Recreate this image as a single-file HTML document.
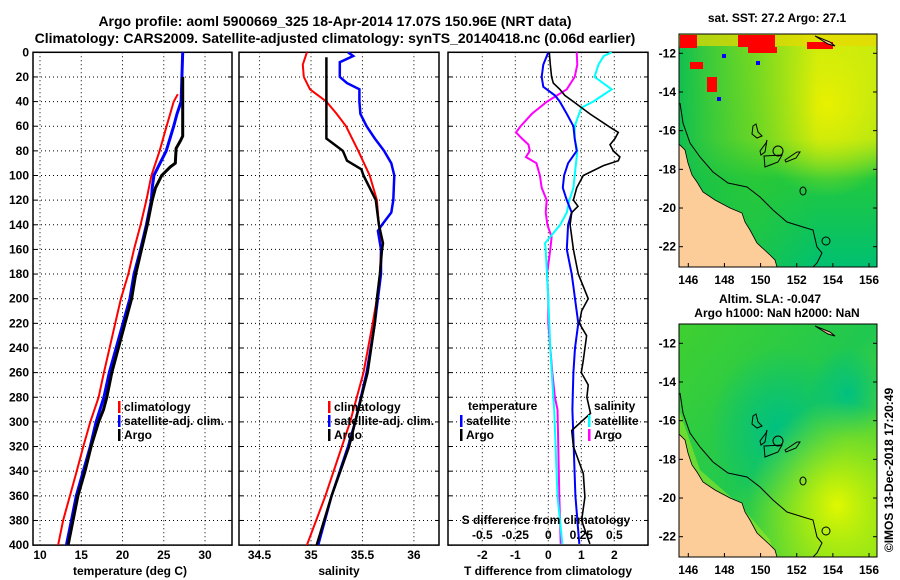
<!DOCTYPE html>
<html><head><meta charset="utf-8"><style>
html,body{margin:0;padding:0;background:#fff;}
svg{display:block;font-family:"Liberation Sans",Arial,sans-serif;font-weight:bold;}
</style></head><body>
<svg id="fig" width="900" height="580" viewBox="0 0 900 580" xmlns="http://www.w3.org/2000/svg">
<defs>
<clipPath id="cT"><rect x="33" y="52" width="199" height="493"/></clipPath>
<clipPath id="cS"><rect x="239" y="52" width="200" height="493"/></clipPath>
<clipPath id="cD"><rect x="448" y="52" width="200" height="493"/></clipPath>
<clipPath id="cM1"><rect x="679" y="34" width="198" height="233"/></clipPath>
<clipPath id="cM2"><rect x="679" y="324" width="198" height="233"/></clipPath>
<linearGradient id="g1b" x1="0" y1="0" x2="0" y2="1"><stop offset="0" stop-color="#c8ec10"/><stop offset="0.45" stop-color="#a8e418"/><stop offset="0.62" stop-color="#20c840"/><stop offset="1" stop-color="#00c070"/></linearGradient>
<linearGradient id="g1l" x1="0" y1="0" x2="1" y2="0"><stop offset="0" stop-color="#10c050"/><stop offset="0.4" stop-color="#30c830" stop-opacity="0.5"/><stop offset="0.7" stop-color="#30c830" stop-opacity="0"/></linearGradient>
<radialGradient id="g1a" cx="0.75" cy="0.3" r="0.4"><stop offset="0" stop-color="#e8f000"/><stop offset="1" stop-color="#e8f000" stop-opacity="0"/></radialGradient>
<linearGradient id="g2b" x1="0" y1="0" x2="1" y2="1"><stop offset="0" stop-color="#40d030"/><stop offset="0.5" stop-color="#20c850"/><stop offset="1" stop-color="#80e020"/></linearGradient>
<radialGradient id="g2a" cx="0.8" cy="0.78" r="0.45"><stop offset="0" stop-color="#e0f800"/><stop offset="1" stop-color="#c0f000" stop-opacity="0"/></radialGradient>
<radialGradient id="g2c" cx="0.5" cy="0.45" r="0.35"><stop offset="0" stop-color="#00c080"/><stop offset="1" stop-color="#00c080" stop-opacity="0"/></radialGradient>
<radialGradient id="g2d" cx="0.85" cy="0.3" r="0.2"><stop offset="0" stop-color="#00c080"/><stop offset="1" stop-color="#00c080" stop-opacity="0"/></radialGradient>
</defs>

<text x="335" y="26" font-size="14" text-anchor="middle">Argo profile: aoml 5900669_325 18-Apr-2014 17.07S 150.96E (NRT data)</text>
<text x="335" y="43" font-size="14" text-anchor="middle">Climatology: CARS2009. Satellite-adjusted climatology: synTS_20140418.nc (0.06d earlier)</text>

<g id="gT"></g>
<g id="gS"></g>
<g id="gD"></g>

<!-- SST map -->
<g>
<text x="777" y="22" font-size="12" text-anchor="middle">sat. SST: 27.2 Argo: 27.1</text>
<g clip-path="url(#cM1)">
<rect x="679" y="34" width="198" height="233" fill="url(#g1b)"/>
<rect x="679" y="34" width="198" height="233" fill="url(#g1a)"/>
<rect x="679" y="34" width="198" height="233" fill="url(#g1l)"/>
<rect x="679" y="34" width="198" height="12" fill="#e8d800" opacity="0.7"/>
<rect x="680" y="35" width="17" height="13" fill="#ff0000"/>
<rect x="738" y="35" width="37" height="12" fill="#ff0000"/>
<rect x="748" y="47" width="29" height="6" fill="#ff0000"/>
<rect x="690" y="62" width="13" height="7" fill="#ff0000"/>
<rect x="707" y="77" width="10" height="15" fill="#ff0000"/>
<rect x="807" y="42" width="26" height="7" fill="#ff0000"/>
<rect x="722" y="54" width="4" height="4" fill="#0000ff"/>
<rect x="756" y="61" width="4" height="4" fill="#0000ff"/>
<rect x="717" y="97" width="4" height="4" fill="#0000ff"/>
<path d="M679,144 L685,150 L688,163 L692,175 L697,182 L703,192 L715,200 L730,208 L742,213 L745,222 L750,230 L757,243 L770,255 L775,260 L777,267 L679,267 Z" fill="#fccc99" stroke="#000" stroke-width="0.8"/>
<polyline points="680,103 683,123 690,143 700,157 713,172 728,183 747,187 760,197 773,210 787,222 803,227 813,230 817,247 822,253 817,263 813,267" fill="none" stroke="#000" stroke-width="1"/>
<circle cx="778" cy="151" r="5" fill="none" stroke="#000" stroke-width="1"/>
<path d="M753,126 L756,124 L758,132 L762,136 L757,138 L752,134 Z M760,151 L766,143 L767,140 L765,152 L761,155 Z M764,156 L782,155 L778,162 L765,167 Z M785,160 L797,152 L800,152 L796,158 L786,162 Z" fill="none" stroke="#000" stroke-width="1"/>
<ellipse cx="803" cy="191" rx="3" ry="4" fill="none" stroke="#000"/>
<ellipse cx="826" cy="241" rx="4" ry="4" fill="none" stroke="#000"/>
<path d="M815,36 L830,42 L835,46 L828,44 Z" fill="#fccc99" stroke="#000"/>
</g>
<rect x="679" y="34" width="198" height="233" fill="none" stroke="#000" stroke-width="1"/>
</g>

<!-- SLA map -->
<g>
<text x="770" y="303" font-size="12" text-anchor="middle">Altim. SLA: -0.047</text>
<text x="777" y="317" font-size="12" text-anchor="middle">Argo h1000: NaN h2000: NaN</text>
<g clip-path="url(#cM2)">
<rect x="679" y="324" width="198" height="233" fill="url(#g2b)"/>
<rect x="679" y="324" width="198" height="233" fill="url(#g2c)"/>
<rect x="679" y="324" width="198" height="233" fill="url(#g2d)"/>
<rect x="679" y="324" width="198" height="233" fill="url(#g2a)"/>
<path d="M679,410 L700,470 L740,505 L770,540 L775,557 L679,557 Z" fill="#b8f020" opacity="0.45"/>
<path d="M679,434 L685,440 L688,453 L692,465 L697,472 L703,482 L715,490 L730,498 L742,503 L745,512 L750,520 L757,533 L770,545 L775,550 L777,557 L679,557 Z" fill="#fccc99" stroke="#000" stroke-width="0.8"/>
<polyline points="680,393 683,413 690,433 700,447 713,462 728,473 747,477 760,487 773,500 787,512 803,517 813,520 817,537 822,543 817,553 813,557" fill="none" stroke="#000" stroke-width="1"/>
<circle cx="778" cy="441" r="5" fill="none" stroke="#000" stroke-width="1"/>
<path d="M753,416 L756,414 L758,422 L762,426 L757,428 L752,424 Z M760,441 L766,433 L767,430 L765,442 L761,445 Z M764,446 L782,445 L778,452 L765,457 Z M785,450 L797,442 L800,442 L796,448 L786,452 Z" fill="none" stroke="#000" stroke-width="1"/>
<ellipse cx="803" cy="481" rx="3" ry="4" fill="none" stroke="#000"/>
<ellipse cx="826" cy="531" rx="4" ry="4" fill="none" stroke="#000"/>
<path d="M815,326 L830,332 L835,336 L828,334 Z" fill="#fccc99" stroke="#000"/>
</g>
<rect x="679" y="324" width="198" height="233" fill="none" stroke="#000" stroke-width="1"/>
</g>
<g id="gM"></g>
<text x="0" y="0" font-size="12" transform="translate(893,470) rotate(-90)" text-anchor="middle">©IMOS 13-Dec-2018 17:20:49</text>
</svg>
<script>
// ---------- data ----------
const depthTclim = [34,40,60,80,100,110,120,140,160,180,200,260,280,300,320,340,380,400];
const tempClim   = [26.7,26.2,25.35,24.5,23.5,23.2,22.9,22.2,21.4,20.7,19.8,17.75,17.1,16.1,15.25,14.45,12.8,12.2];
const depthTsat  = [0,40,50,60,80,100,110,120,140,160,180,200,260,280,300,320,340,360,380,400];
const tempSat    = [27.3,27.1,26.6,26.2,25.3,23.8,23.6,23.5,22.9,22.2,21.4,20.9,18.4,17.75,16.8,16.1,15.25,14.4,13.8,13.2];
const depthTargo = [20,68,72,78,90,93,100,110,120,140,160,180,200,260,280,290,300,320,340,360,380,400];
const tempArgo   = [27.3,27.3,27.0,26.5,26.4,25.8,24.75,24.0,23.6,23.0,22.3,21.6,21.1,18.7,18.1,17.7,17.1,16.2,15.45,14.6,14.0,13.4];

const depthSclim = [0,10,20,30,40,50,60,80,100,120,140,160,180,200,220,260,300,320,360,400];
const salClim    = [34.96,34.92,34.93,34.99,35.15,35.25,35.34,35.46,35.57,35.64,35.66,35.68,35.67,35.64,35.6,35.51,35.38,35.3,35.14,34.96];
const depthSsat  = [0,3,8,20,25,30,40,50,60,70,80,90,100,120,130,140,145,160,180,200,220,260,300,320,360,400];
const salSat     = [35.36,35.41,35.28,35.28,35.35,35.47,35.47,35.48,35.54,35.62,35.71,35.78,35.81,35.8,35.78,35.69,35.65,35.68,35.68,35.65,35.62,35.54,35.43,35.36,35.2,35.07];
const depthSargo = [4,70,80,88,95,100,110,120,140,155,160,180,200,220,260,300,320,360,400];
const salArgo    = [35.15,35.15,35.31,35.35,35.49,35.51,35.57,35.63,35.66,35.70,35.69,35.67,35.64,35.62,35.55,35.43,35.37,35.2,35.055];

const depthDiff = [0,10,20,25,30,35,40,50,60,65,70,75,80,85,88,92,100,110,120,125,130,140,160,180,190,200,210,220,230,250,260,270,280,293,307,320,342,361,380,399];
const tDiffArgo = [0.03,0.06,0.1,0.15,0.35,0.5,0.76,1.26,1.82,2.12,2.02,1.87,1.97,2.17,2.12,1.67,1.06,0.86,0.76,0.9,0.71,0.66,0.76,0.91,1.06,1.21,1.01,0.94,1.16,1.06,1.0,1.21,1.17,1.28,0.71,0.76,1.06,1.11,1.01,1.26];
const depthD2 = [0,10,20,28,35,40,50,60,70,80,90,100,110,120,130,140,160,180,190,200,220,240,260,280,290,320,360,399];
const tDiffSat  = [0,-0.15,-0.2,-0.15,0.2,0.35,0.56,0.76,0.8,0.86,0.6,0.48,0.44,0.56,0.71,0.6,0.56,0.71,0.76,0.81,0.91,0.81,0.76,0.74,0.73,0.77,0.82,0.94];
const depthD3 = [0,10,20,30,40,50,60,65,70,75,80,85,90,100,110,120,130,140,150,160,180,200,220,240,260,280,290,320,360,399];
const sDiffArgo = [0.215,0.22,0.2,0.14,-0.01,-0.125,-0.21,-0.245,-0.2,-0.15,-0.14,-0.17,-0.09,-0.064,-0.05,-0.012,-0.02,-0.007,0.025,0.015,-0.01,0,0,0.015,0.03,0.05,0.07,0.076,0.083,0.094];
const depthD4 = [0,3,10,20,30,40,45,60,70,80,90,100,110,120,130,140,150,155,160,170,180,200,240,280,290,320,360,399];
const sDiffSat  = [0.48,0.42,0.38,0.35,0.48,0.34,0.25,0.2,0.2,0.22,0.21,0.2,0.19,0.16,0.14,0.09,0.013,-0.025,-0.02,-0.015,-0.01,0,0.015,0.038,0.045,0.055,0.07,0.106];

const depthTicks = [0,20,40,60,80,100,120,140,160,180,200,220,240,260,280,300,320,340,360,380,400];
const tempTicks = [10,15,20,25,30];
const salTicks = [34.5,35,35.5,36];
const salTickLabels = ["34.5","35","35.5","36"];
const tdTicks = [-2,-1,0,1,2];
const sdTicks = [-0.5,-0.25,0,0.25,0.5];
const sdTickLabels = ["-0.5","-0.25","0","0.25","0.5"];
const lonTicks = [146,148,150,152,154,156];
const latTicks = [-12,-14,-16,-18,-20,-22];

// ---------- scales ----------
const Y0=52.3, YK=1.232;
const yD = d => Y0 + d*YK;
const xT = t => 40 + (t-10)*8.25;
const xS = s => 311 + (s-35)*102.9;
const xTD = t => 548.3 + t*33;
const xSD = s => 548.3 + s*132;
const NS="http://www.w3.org/2000/svg";
function mk(tag, attrs, parent){const e=document.createElementNS(NS,tag);for(const k in attrs)e.setAttribute(k,attrs[k]);parent.appendChild(e);return e;}
function txt(parent,x,y,s,anchor,size){const t=mk('text',{x:x,y:y,'font-size':size||12,'text-anchor':anchor||'middle'},parent);t.textContent=s;return t;}

function panel(g, x0, x1, xticks, xfn){
  for(const d of depthTicks){
    const l=mk('line',{x1:x0,x2:x1,y1:yD(d),y2:yD(d),stroke:'#000','stroke-width':1,'stroke-dasharray':'1,3'},g);
    
    
    mk('line',{x1:x0,x2:x0+4,y1:yD(d),y2:yD(d),stroke:'#000'},g);
    mk('line',{x1:x1-4,x2:x1,y1:yD(d),y2:yD(d),stroke:'#000'},g);
  }
  for(const v of xticks){
    const l=mk('line',{x1:xfn(v),x2:xfn(v),y1:Y0,y2:yD(400),stroke:'#000','stroke-width':1,'stroke-dasharray':'1,3'},g);
    
    
  }
  const r=mk('rect',{x:x0,y:Y0,width:x1-x0,height:yD(400)-Y0,fill:'none',stroke:'#000','stroke-width':1.5},g);
  
  
}
function line(g, ds, vs, xfn, color, w, name, clip){
  const pts=ds.map((d,i)=>xfn(vs[i]).toFixed(1)+','+yD(d).toFixed(1)).join(' ');
  const p=mk('polyline',{points:pts,fill:'none',stroke:color,'stroke-width':w,'stroke-linejoin':'miter','clip-path':'url(#'+clip+')'},g);
  
  
}
function legendRow(g,x,y,color,label){
  mk('rect',{x:x,y:y-10,width:2.5,height:12,fill:color},g);
  const t=txt(g,x+6,y,label,'start',12);
  
  
}

// temperature panel
const gT=document.getElementById('gT');
panel(gT,33,232,tempTicks,xT);
for(const d of depthTicks){const t=txt(gT,29,yD(d)+4,String(d),'end',12);
  
  }
for(const v of tempTicks){const t=txt(gT,xT(v),559,String(v),'middle',12);
  
  }
const tt=txt(gT,130,575,'temperature (deg C)','middle',12);


line(gT,depthTclim,tempClim,xT,'#ff0000',2,'temp-climatology-line','cT');
line(gT,depthTsat,tempSat,xT,'#0000ff',3,'temp-satellite-line','cT');
line(gT,depthTargo,tempArgo,xT,'#000000',3,'temp-argo-line','cT');
legendRow(gT,118,411,'#ff0000','climatology');
legendRow(gT,118,425,'#0000ff','satellite-adj. clim.');
legendRow(gT,118,439,'#000000','Argo');

// salinity panel
const gS=document.getElementById('gS');
panel(gS,239,439,salTicks,xS);
salTicks.forEach((v,i)=>{const t=txt(gS,xS(v),559,salTickLabels[i],'middle',12);
  
  });
const ts=txt(gS,339,575,'salinity','middle',12);


line(gS,depthSclim,salClim,xS,'#ff0000',2,'sal-climatology-line','cS');
line(gS,depthSsat,salSat,xS,'#0000ff',2.5,'sal-satellite-line','cS');
line(gS,depthSargo,salArgo,xS,'#000000',2.5,'sal-argo-line','cS');
legendRow(gS,328,411,'#ff0000','climatology');
legendRow(gS,328,425,'#0000ff','satellite-adj. clim.');
legendRow(gS,328,439,'#000000','Argo');

// difference panel
const gD=document.getElementById('gD');
panel(gD,448,648,tdTicks,xTD);
tdTicks.forEach(v=>{const t=txt(gD,xTD(v),559,String(v),'middle',12);
  
  });
const td=txt(gD,548,575,'T difference from climatology','middle',12);


line(gD,depthD3,sDiffArgo,xSD,'#ff00ff',2,'sdiff-argo-line','cD');
line(gD,depthD4,sDiffSat,xSD,'#00ffff',2,'sdiff-satellite-line','cD');
line(gD,depthD2,tDiffSat,xTD,'#0000ff',2,'tdiff-satellite-line','cD');
line(gD,depthDiff,tDiffArgo,xTD,'#000000',1.6,'tdiff-argo-line','cD');
const sdt=txt(gD,546,524,'S difference from climatology','middle',12);


sdTicks.forEach((v,i)=>{const t=txt(gD,xSD(v),539,sdTickLabels[i],'middle',12);
  
  });
const lt=txt(gD,468,410,'temperature','start',12);


legendRow(gD,460,425,'#0000ff','satellite');
legendRow(gD,460,439,'#000000','Argo');
const ls=txt(gD,594,410,'salinity','start',12);


legendRow(gD,588,425,'#00ffff','satellite');
legendRow(gD,588,439,'#ff00ff','Argo');

// map axes
const gM=document.getElementById('gM');
const xLon = l => 688.3 + (l-146)*18.07;
[[34,53.3,280],[324,343.3,570]].forEach(([top,y12,ylab])=>{
  for(const l of lonTicks){
    mk('line',{x1:xLon(l),x2:xLon(l),y1:top+233,y2:top+229,stroke:'#000'},gM);
    const t=txt(gM,xLon(l),ylab+4,String(l),'middle',12);
    
    
  }
  for(const la of latTicks){
    const y=y12+(-12-la)*19.34;
    mk('line',{x1:679,x2:683,y1:y,y2:y,stroke:'#000'},gM);
    mk('line',{x1:873,x2:877,y1:y,y2:y,stroke:'#000'},gM);
    const t=txt(gM,676,y+4,String(la),'end',12);
    
    
  }
});
</script>
</body></html>
